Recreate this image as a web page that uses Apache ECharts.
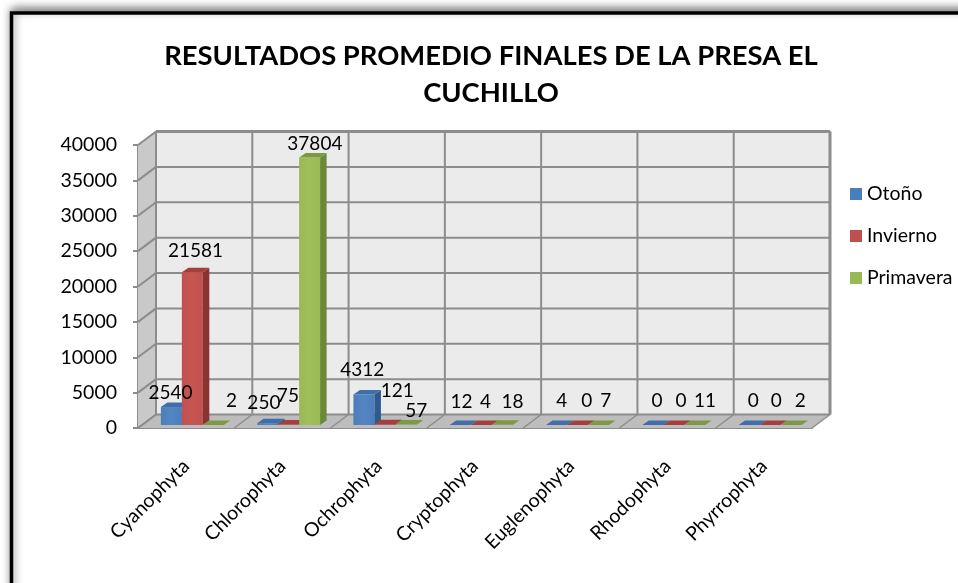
<!DOCTYPE html>
<html>
<head>
<meta charset="utf-8">
<title>Resultados promedio</title>
<script src="https://cdn.jsdelivr.net/npm/echarts@6/dist/echarts.min.js"></script>
<style>
  html, body { margin: 0; padding: 0; background: #fff; }
  #chart { width: 958px; height: 583px; }
</style>
</head>
<body>
<div id="chart"></div>
<script>
// datos
const categories = ['Cyanophyta', 'Chlorophyta', 'Ochrophyta', 'Cryptophyta', 'Euglenophyta', 'Rhodophyta', 'Phyrrophyta'];
const otono = [2540, 250, 4312, 12, 4, 0, 0];
const invierno = [21581, 75, 121, 4, 0, 0, 0];
const primavera = [2, 37804, 57, 18, 7, 11, 2];
const yTicks = [0, 5000, 10000, 15000, 20000, 25000, 30000, 35000, 40000];

// desplazamiento manual de cada etiqueta respecto a la barra [dx, dy]
const otonoLabelShift = [[-4, -14], [-7, -20], [-5, -25], [-2, -23], [2, -24], [1, -24], [1, -24]];
const inviernoLabelShift = [[0, -21], [-4, -29], [9, -33], [1, -23], [6, -24], [4, -24], [3, -24]];
const primaveraLabelShift = [[15, -24], [2, -14], [7, -14], [7, -23], [4, -24], [7, -24], [6, -24]];

const FONT = 'Lato, "Open Sans", sans-serif';
const WALL_DX = 18, WALL_DY = 13.5;   // profundidad de las paredes
const BAR_DX = 6.5, BAR_DY = 4.5;     // profundidad de las barras
const BASE_DX = 6.2, BASE_DY = 3;     // barra separada del frente del piso
const GRID_LINE = '#8c8c8c';

const chart = echarts.init(document.getElementById('chart'), null, { renderer: 'canvas' });

function poly(points, fill, stroke, width) {
  return {
    type: 'polygon',
    shape: { points: points },
    style: { fill: fill, stroke: stroke || null, lineWidth: width || 0 },
    silent: true
  };
}

function line(x1, y1, x2, y2, width) {
  return {
    type: 'line',
    shape: { x1: x1, y1: y1, x2: x2, y2: y2 },
    style: { stroke: GRID_LINE, lineWidth: width || 2 },
    silent: true
  };
}

// paredes y piso, una sola vez
function renderWalls(params, api) {
  const c = params.coordSys;
  const x0 = c.x, x1 = c.x + c.width, y0 = c.y, y1 = c.y + c.height;
  const dx = WALL_DX, dy = WALL_DY;
  const children = [
    poly([[x0 + dx, y0 - dy], [x1 + dx, y0 - dy], [x1 + dx, y1 - dy], [x0 + dx, y1 - dy]], '#ebebeb'),
    poly([[x0, y0], [x0 + dx, y0 - dy], [x0 + dx, y1 - dy], [x0, y1]], '#c9c9c9'),
    poly([[x0, y1], [x0 + dx, y1 - dy], [x1 + dx, y1 - dy], [x1, y1]], '#bdbdbd')
  ];
  yTicks.forEach(function (t) {
    const p = api.coord([0, t]);
    children.push(line(x0, p[1], x0 + dx, p[1] - dy));
    children.push(line(x0 + dx, p[1] - dy, x1 + dx, p[1] - dy));
  });
  for (let i = 0; i <= categories.length; i++) {
    const x = x0 + c.width * i / categories.length;
    children.push(line(x + dx, y0 - dy, x + dx, y1 - dy));
    children.push(line(x, y1, x + dx, y1 - dy, 1.5));
  }
  children.push(line(x1 + dx, y0 - dy, x1 + dx, y1 - dy, 3));
  children.push(line(x0 + dx, y0 - dy, x1 + dx, y0 - dy, 3));
  return { type: 'group', children: children };
}

function barRenderer(slot, front, side, top, shifts) {
  return function (params, api) {
    const cat = api.value(0), val = api.value(1);
    const bottom = api.coord([cat, 0]);
    const head = api.coord([cat, val]);
    const w = api.size([1, 0])[0] * 0.218;
    const xl = bottom[0] + BASE_DX + (slot - 1.5) * w;
    const xr = xl + w;
    const yb = bottom[1] - BASE_DY;
    const yt = head[1] - BASE_DY;
    const s = shifts[params.dataIndex];
    return {
      type: 'group',
      children: [
        poly([[xl, yb], [xr, yb], [xr, yt], [xl, yt]], new echarts.graphic.LinearGradient(0, 0, 1, 0, [
          { offset: 0, color: front[0] }, { offset: 0.5, color: front[1] }, { offset: 1, color: front[0] }
        ])),
        poly([[xr, yb], [xr + BAR_DX, yb - BAR_DY], [xr + BAR_DX, yt - BAR_DY], [xr, yt]], side),
        poly([[xl, yt], [xr, yt], [xr + BAR_DX, yt - BAR_DY], [xl + BAR_DX, yt - BAR_DY]], top),
        {
          type: 'text',
          z2: 100,
          silent: true,
          style: {
            text: String(val),
            x: xl + w / 2 + BAR_DX / 2 + s[0],
            y: yt + s[1],
            align: 'center',
            verticalAlign: 'middle',
            fill: '#000',
            font: '19px ' + FONT
          }
        }
      ]
    };
  };
}

function barSeries(name, values, slot, front, side, top, shifts) {
  return {
    name: name,
    type: 'custom',
    coordinateSystem: 'cartesian2d',
    itemStyle: { color: front[0] },
    encode: { x: 0, y: 1 },
    data: values.map(function (v, i) { return [i, v]; }),
    renderItem: barRenderer(slot, front, side, top, shifts)
  };
}

const option = {
  animation: false,
  backgroundColor: '#fff',
  graphic: [{
    type: 'rect',
    z: -10,
    silent: true,
    shape: { x: 11.5, y: 13, width: 1200, height: 900 },
    style: {
      fill: '#fff', stroke: '#000', lineWidth: 3.5,
      shadowColor: 'rgba(0,0,0,0.5)', shadowBlur: 9, shadowOffsetX: 1, shadowOffsetY: -3
    }
  }],
  title: {
    text: 'RESULTADOS PROMEDIO FINALES DE LA PRESA EL\nCUCHILLO',
    left: 486,
    top: 33,
    textAlign: 'center',
    textStyle: { fontFamily: FONT, fontWeight: 'bold', fontSize: 27.4, lineHeight: 37, color: '#000' }
  },
  legend: {
    left: 845,
    top: 179,
    orient: 'vertical',
    itemWidth: 12,
    itemHeight: 12,
    itemGap: 22,
    selectedMode: false,
    textStyle: { fontFamily: FONT, fontSize: 19.5, color: '#000' },
    data: [
      { name: 'Otoño', icon: 'rect' },
      { name: 'Invierno', icon: 'rect' },
      { name: 'Primavera', icon: 'rect' }
    ]
  },
  grid: { left: 138, top: 145, width: 674, height: 283 },
  xAxis: {
    type: 'category',
    data: categories,
    axisLine: { lineStyle: { color: GRID_LINE, width: 2 } },
    axisTick: { length: 5, lineStyle: { color: GRID_LINE, width: 2 } },
    axisLabel: { rotate: 45, margin: 35, interval: 0, color: '#000', fontFamily: FONT, fontSize: 19.5 }
  },
  yAxis: {
    type: 'value',
    min: 0,
    max: 40000,
    interval: 5000,
    splitLine: { show: false },
    axisLine: { show: true, lineStyle: { color: GRID_LINE, width: 2 } },
    axisTick: { show: true, length: 5, lineStyle: { color: GRID_LINE, width: 2 } },
    axisLabel: {
      margin: 21, color: '#000', fontFamily: FONT, fontSize: 19.5,
      formatter: function (v) { return String(v); }
    }
  },
  series: [
    {
      type: 'custom',
      coordinateSystem: 'cartesian2d',
      silent: true,
      z: 1,
      data: [[0, 0]],
      renderItem: renderWalls
    },
    barSeries('Otoño', otono, 0, ['#4a7ebb', '#5486c3'], '#2f5a8f', '#3f6ea8', otonoLabelShift),
    barSeries('Invierno', invierno, 1, ['#c0504d', '#c85754'], '#8a3432', '#a33f3c', inviernoLabelShift),
    barSeries('Primavera', primavera, 2, ['#98b954', '#a0c05c'], '#6b8a39', '#7c9a44', primaveraLabelShift)
  ]
};

chart.setOption(option);
</script>
</body>
</html>
